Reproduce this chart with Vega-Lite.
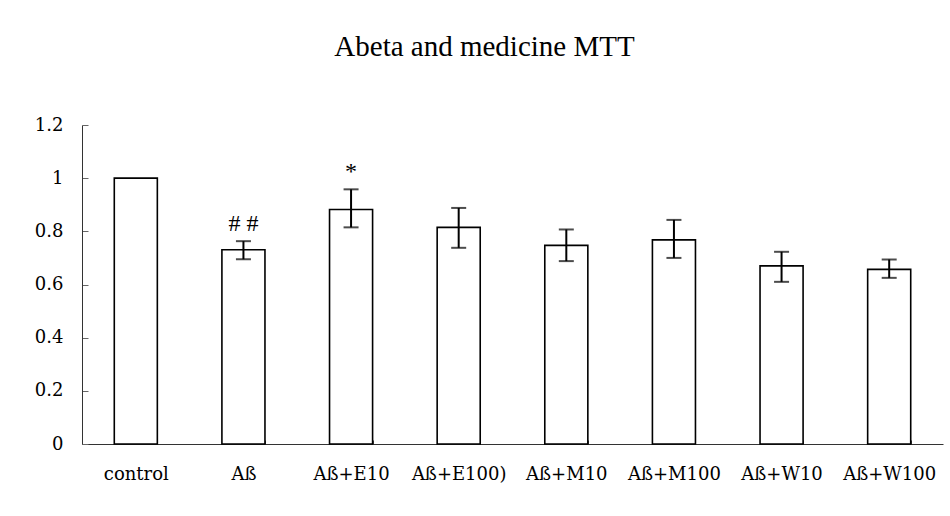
{
  "$schema": "https://vega.github.io/schema/vega-lite/v6.json",
  "autosize": "none",
  "width": 861,
  "height": 319,
  "padding": {"left": 82, "top": 125, "right": 7, "bottom": 72},
  "background": "white",
  "title": {
    "text": "Abeta and medicine MTT",
    "font": "Liberation Serif",
    "fontSize": 29,
    "fontWeight": "normal",
    "color": "black",
    "anchor": "middle",
    "frame": "group",
    "baseline": "alphabetic",
    "dx": -28,
    "offset": 31
  },
  "data": {
    "values": [
      {"group": "control", "mean": 1.0, "lo": 1.0, "hi": 1.0, "sig": ""},
      {"group": "Aß", "mean": 0.731, "lo": 0.695, "hi": 0.763, "sig": "# #"},
      {"group": "Aß+E10", "mean": 0.882, "lo": 0.815, "hi": 0.958, "sig": "*"},
      {"group": "Aß+E100)", "mean": 0.815, "lo": 0.738, "hi": 0.888, "sig": ""},
      {"group": "Aß+M10", "mean": 0.747, "lo": 0.688, "hi": 0.807, "sig": ""},
      {"group": "Aß+M100", "mean": 0.768, "lo": 0.700, "hi": 0.843, "sig": ""},
      {"group": "Aß+W10", "mean": 0.670, "lo": 0.610, "hi": 0.723, "sig": ""},
      {"group": "Aß+W100", "mean": 0.657, "lo": 0.625, "hi": 0.694, "sig": ""}
    ]
  },
  "encoding": {
    "x": {
      "field": "group",
      "type": "nominal",
      "sort": null,
      "scale": {"paddingInner": 0.6, "paddingOuter": 0.3},
      "axis": {
        "title": null,
        "labelAngle": 0,
        "labelFont": "DejaVu Serif",
        "labelFontSize": 18,
        "labelColor": "black",
        "labelPadding": 25,
        "domainColor": "#333",
        "tickColor": "#444",
        "tickBand": "extent",
        "tickSize": -4
      }
    }
  },
  "layer": [
    {
      "mark": {"type": "bar", "fill": "white", "stroke": "black", "strokeWidth": 1.6},
      "encoding": {
        "y": {
          "field": "mean",
          "type": "quantitative",
          "scale": {"domain": [0, 1.2]},
          "axis": {
            "title": null,
            "values": [0, 0.2, 0.4, 0.6, 0.8, 1, 1.2],
            "format": "~g",
            "grid": false,
            "labelFont": "DejaVu Serif",
            "labelFontSize": 18,
            "labelColor": "black",
            "labelPadding": 25,
            "domainColor": "#333",
            "tickColor": "#666",
            "tickSize": -6
          }
        }
      }
    },
    {
      "transform": [{"filter": "datum.hi > datum.lo"}],
      "mark": {"type": "rule", "color": "black", "strokeWidth": 2},
      "encoding": {
        "y": {"field": "lo", "type": "quantitative"},
        "y2": {"field": "hi"}
      }
    },
    {
      "transform": [{"filter": "datum.hi > datum.lo"}],
      "mark": {"type": "tick", "color": "black", "thickness": 2, "size": 15},
      "encoding": {"y": {"field": "hi", "type": "quantitative"}}
    },
    {
      "transform": [{"filter": "datum.hi > datum.lo"}],
      "mark": {"type": "tick", "color": "black", "thickness": 2, "size": 15},
      "encoding": {"y": {"field": "lo", "type": "quantitative"}}
    },
    {
      "mark": {"type": "text", "font": "Liberation Serif", "fontSize": 24, "color": "black", "baseline": "bottom", "dy": -5},
      "encoding": {
        "y": {"field": "hi", "type": "quantitative"},
        "text": {"field": "sig"}
      }
    }
  ],
  "config": {"view": {"stroke": null}}
}
